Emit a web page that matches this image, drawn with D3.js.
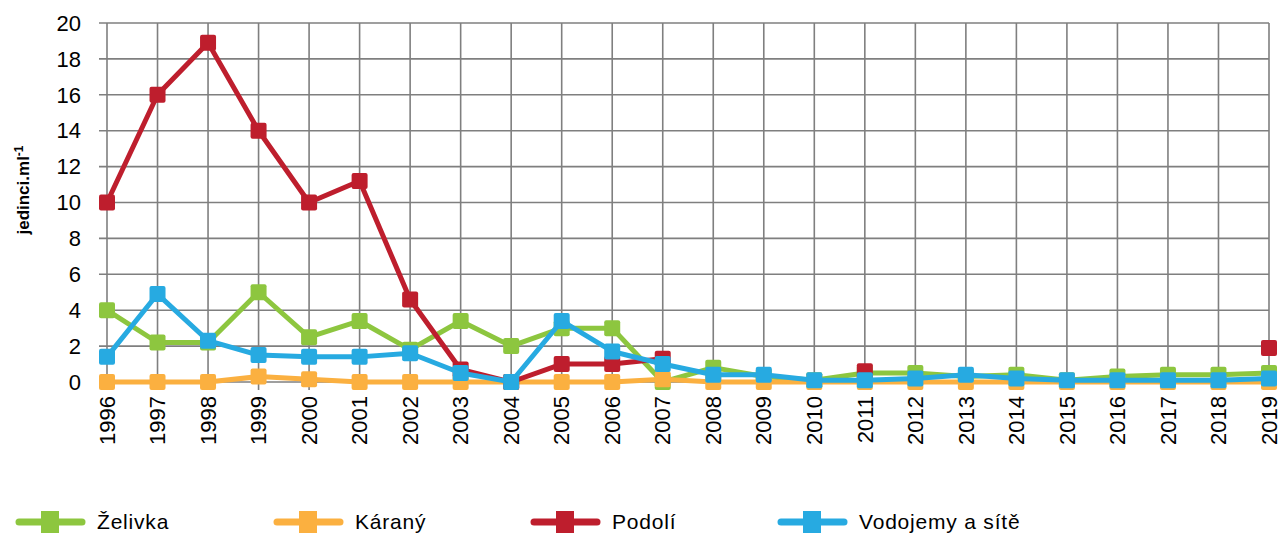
<!DOCTYPE html>
<html>
<head>
<meta charset="utf-8">
<script src="https://cdn.jsdelivr.net/npm/d3@7"></script>
<style>
  body { margin: 0; background: #fff; }
  svg { display: block; font-family: 'Liberation Sans', Arial, sans-serif; }
</style>
</head>
<body>
<svg id="chart" width="1281" height="536"></svg>
<script>
const years = d3.range(1996, 2020);
const yTicks = [0, 2, 4, 6, 8, 10, 12, 14, 16, 18, 20];

const zelivka = [4.0, 2.2, 2.2, 5.0, 2.5, 3.4, 1.8, 3.4, 2.0, 3.0, 3.0, 0.0, 0.8, 0.3, 0.1, 0.5, 0.5, 0.3, 0.4, 0.1, 0.3, 0.4, 0.4, 0.5];
const karany = [0, 0, 0, 0.3, 0.15, 0, 0, 0, 0, 0, 0, 0.15, 0, 0, 0, 0, 0, 0, 0, 0, 0, 0, 0, 0];
const podoli = [10, 16, 18.9, 14, 10, 11.2, 4.6, 0.7, 0, 1.0, 1.0, 1.3, null, null, null, 0.6, null, null, null, null, null, null, null, 1.9];
const vodojemy = [1.4, 4.9, 2.3, 1.5, 1.4, 1.4, 1.6, 0.5, 0, 3.4, 1.7, 1.0, 0.4, 0.4, 0.1, 0.1, 0.2, 0.4, 0.2, 0.1, 0.1, 0.1, 0.1, 0.2];

const seriesNames = ['Želivka', 'Káraný', 'Podolí', 'Vodojemy a sítě'];
const seriesColors = ['#8dc63f', '#fbb040', '#be1e2d', '#27aae1'];
const seriesValues = [zelivka, karany, podoli, vodojemy];

const svg = d3.select('#chart');
const x = d3.scalePoint().domain(years).range([107, 1269]);
const y = d3.scaleLinear().domain([0, 20]).range([382, 23]);

// grid
const grid = svg.append('g');
grid.selectAll('line.h').data(yTicks).enter().append('line')
    .attr('x1', 99).attr('x2', 1269)
    .attr('y1', d => y(d)).attr('y2', d => y(d))
    .attr('stroke', '#7f7f7f').attr('stroke-width', 1.6);
grid.selectAll('line.v').data(years).enter().append('line')
    .attr('x1', d => x(d)).attr('x2', d => x(d))
    .attr('y1', 23).attr('y2', 390)
    .attr('stroke', '#7f7f7f').attr('stroke-width', 1.6);

// y tick labels
svg.append('g').selectAll('text').data(yTicks).enter().append('text')
    .attr('x', 81).attr('y', d => y(d)).attr('dy', '0.35em')
    .attr('text-anchor', 'end').attr('font-size', 22).attr('fill', '#000')
    .text(d => d);

// x tick labels
svg.append('g').selectAll('text').data(years).enter().append('text')
    .attr('transform', d => 'translate(' + x(d) + ',396) rotate(-90)')
    .attr('dy', '0.35em').attr('text-anchor', 'end')
    .attr('font-size', 22).attr('fill', '#000')
    .text(d => d);

// y axis title
const yt = svg.append('text')
    .attr('transform', 'translate(29,190) rotate(-90)')
    .attr('text-anchor', 'middle').attr('font-size', 17).attr('font-weight', 'bold');
yt.append('tspan').text('jedinci.ml');
yt.append('tspan').attr('dy', -6).attr('font-size', 12).text('-1');

// series
const line = d3.line()
    .defined(d => d.v !== null)
    .x(d => x(d.year)).y(d => y(d.v));

seriesValues.forEach((vals, i) => {
    const pts = vals.map((v, j) => ({ year: years[j], v: v }));
    const g = svg.append('g');
    g.append('path').datum(pts)
        .attr('d', line).attr('fill', 'none')
        .attr('stroke', seriesColors[i]).attr('stroke-width', 5)
        .attr('stroke-linejoin', 'round');
    g.selectAll('rect').data(pts.filter(d => d.v !== null)).enter().append('rect')
        .attr('x', d => x(d.year) - 8).attr('y', d => y(d.v) - 8)
        .attr('width', 16).attr('height', 16).attr('rx', 2)
        .attr('fill', seriesColors[i]);
});

// legend
const legendX = [50, 308, 565, 812];
const legend = svg.append('g').selectAll('g').data(seriesNames).enter().append('g')
    .attr('transform', (d, i) => 'translate(' + legendX[i] + ',522)');
legend.append('line')
    .attr('x1', -31).attr('x2', 32).attr('y1', 0).attr('y2', 0)
    .attr('stroke', (d, i) => seriesColors[i]).attr('stroke-width', 7)
    .attr('stroke-linecap', 'round');
legend.append('rect')
    .attr('x', -9).attr('y', -11).attr('width', 18).attr('height', 22)
    .attr('fill', (d, i) => seriesColors[i]);
legend.append('text')
    .attr('x', 47).attr('dy', '0.35em').attr('font-size', 21)
    .attr('letter-spacing', 0.8)
    .text(d => d);
</script>
</body>
</html>
